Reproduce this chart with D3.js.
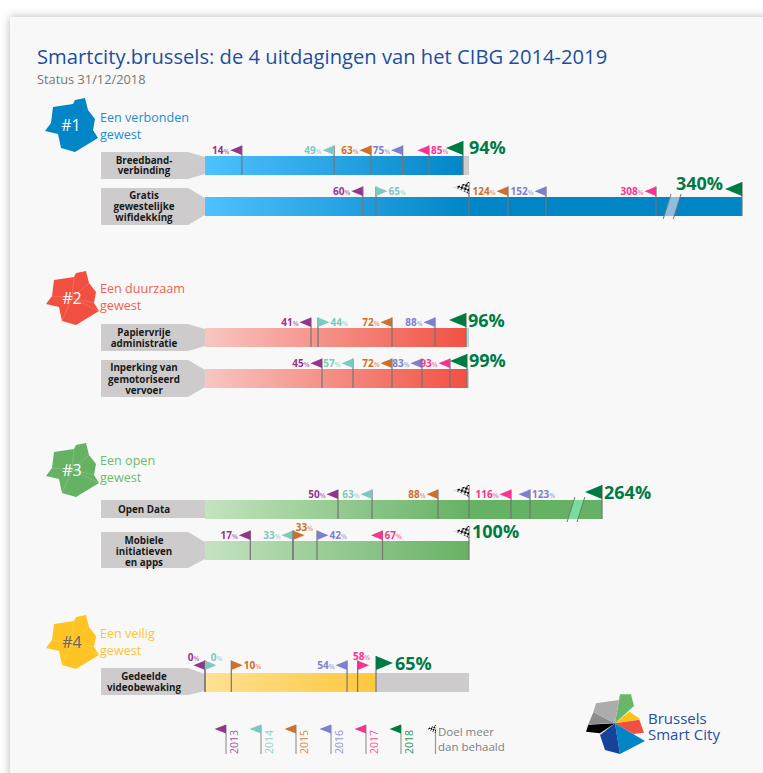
<!DOCTYPE html>
<html>
<head>
<meta charset="utf-8">
<script src="https://cdn.jsdelivr.net/npm/d3@7"></script>
<style>
  html, body { margin: 0; padding: 0; background: #fff; overflow: hidden; }
  text { font-family: "Open Sans", sans-serif; }
</style>
</head>
<body>
<div id="chart"></div>
<script>
// Data
const years = ["2013", "2014", "2015", "2016", "2017", "2018"];
const groupNames = [["Een verbonden", "gewest"], ["Een duurzaam", "gewest"], ["Een open", "gewest"], ["Een veilig", "gewest"]];
const groupTags = ["#1", "#2", "#3", "#4"];

const rowNames = [
    ["Breedband-", "verbinding"],
    ["Gratis", "gewestelijke", "wifidekking"],
    ["Papiervrije", "administratie"],
    ["Inperking van", "gemotoriseerd", "vervoer"],
    ["Open Data"],
    ["Mobiele", "initiatieven", "en apps"],
    ["Gedeelde", "videobewaking"]
];

// one value per year, null where the picture has no flag
const breedband = [14, 49, 63, 75, 85, 94];
const wifi = [60, 65, 124, 152, 308, 340];
const papier = [41, 44, 72, 88, null, 96];
const inperking = [45, 57, 72, 83, 93, 99];
const openData = [50, 63, 88, 123, 116, 264];
const mobiel = [17, 33, 33, 42, 67, 100];
const video = [0, 0, 10, 54, 58, 65];
const rowValues = [breedband, wifi, papier, inperking, openData, mobiel, video];

// rows with a chequered "goal passed" flag at 100%
const goalFlag = [false, true, false, false, true, true, false];

// Set up dimensions
const width = 763;
const height = 773;
const barStart = 205;
const goalX = 469;

const yearColors = ["#93358d", "#7ccabf", "#cf6f2a", "#7d7fcf", "#f7348f", "#007a45"];
const groupColors = ["#0085c7", "#f15041", "#66b264", "#ffc423"];
const groupText = ["#1b8fd0", "#f2604f", "#6cbb6c", "#fdc52f"];

// Layout of each row. The bars are not to one scale in the picture, so each
// row gets its own piecewise x scale.
const rowLayout = [
    {group: 0, top: 156, labelTop: 152, labelBottom: 179, labelLines: [164, 174],
     domain: [0, 85, 94, 100], range: [barStart, 429, 463, goalX],
     dirs: "llllll", sides: "LLLLRR", bigDy: 2.5, bigDx: 6},
    {group: 0, top: 197, labelTop: 188, labelBottom: 225, labelLines: [199, 210, 221],
     domain: [0, 65, 100, 124, 152, 308, 340], range: [barStart, 376, goalX, 508, 546, 656, 742],
     dirs: "lrllll", sides: "LRLLLL", bigDy: 7.5, breakAt: 314, breakFill: "#8fbde0"},
    {group: 1, top: 328, labelTop: 324, labelBottom: 351, labelLines: [336, 347],
     domain: [0, 41, 44, 72, 88, 96, 100], range: [barStart, 311, 318, 392, 435, 466, goalX],
     dirs: "lrll.l", sides: "LRLL.R", bigDy: 1.5, bigDx: 2},
    {group: 1, top: 369, labelTop: 360, labelBottom: 397, labelLines: [371, 382.5, 393.5],
     domain: [0, 45, 57, 72, 83, 93, 99, 100], range: [barStart, 322, 353, 392, 422, 450, 467, goalX],
     dirs: "llllll", sides: "LLLLLR", bigDy: 2, bigDx: 2},
    {group: 2, top: 500, labelTop: 500, labelBottom: 518, labelLines: [513],
     domain: [0, 50, 63, 88, 100, 116, 123, 264], range: [barStart, 338, 372, 438, goalX, 511, 530, 602],
     dirs: "llllll", sides: "LLLRLR", bigDy: 1, bigDx: 2, breakAt: 213, breakFill: "#77dd99"},
    {group: 2, top: 541, labelTop: 532, labelBottom: 568, labelLines: [544, 555, 566],
     domain: [0, 42, 100], range: [barStart, 317, goalX],
     dirs: "llrrl.", sides: "LLTRRR", bigDy: 3, bigDx: 3},
    {group: 3, top: 673, labelTop: 668, labelBottom: 695, labelLines: [680, 691],
     domain: [0, 65, 100], range: [barStart, 376, goalX],
     dirs: "lrrlrr", sides: "TTRLAR", bigDy: 3.5, bigDx: 2, flagGap: 3, fillEnd: 376}
];

const blobOutline = [[13, 12], [33, 9], [35, 5], [45, 3], [48, 15], [55, 24], [53, 35], [58, 43], [35, 57], [21, 53], [18, 39], [5, 36], [11, 28]];
const blobOrigins = [[40, 95], [41, 268], [41, 440], [41, 612]];

// Create SVG
const svg = d3.select("#chart")
    .append("svg")
    .attr("width", width)
    .attr("height", height)
    .style("display", "block");

const defs = svg.append("defs");

defs.append("filter").attr("id", "panel-shadow")
    .attr("x", "-5%").attr("y", "-5%").attr("width", "110%").attr("height", "110%")
    .append("feDropShadow")
    .attr("dx", 0).attr("dy", 0).attr("stdDeviation", 5)
    .attr("flood-color", "#000").attr("flood-opacity", 0.28);

// Gradients for the bars
const gradients = [["#4fc1ff", "#0085c7"], ["#f8c6c2", "#f15041"], ["#c4e3bf", "#66b264"], ["#fee192", "#ffc83d"]];
gradients.forEach(function(g, i) {
    const end = i === 3 ? 376 : goalX;
    const grad = defs.append("linearGradient")
        .attr("id", "bar-" + i)
        .attr("gradientUnits", "userSpaceOnUse")
        .attr("x1", barStart).attr("x2", end).attr("y1", 0).attr("y2", 0);
    grad.append("stop").attr("offset", 0).attr("stop-color", g[0]);
    grad.append("stop").attr("offset", 1).attr("stop-color", g[1]);
});

// Chequered pattern for the goal flag
const chequer = defs.append("pattern")
    .attr("id", "chequer")
    .attr("patternUnits", "userSpaceOnUse")
    .attr("width", 5).attr("height", 5)
    .attr("patternTransform", "rotate(-25)");
chequer.append("rect").attr("width", 5).attr("height", 5).attr("fill", "#fff");
chequer.append("rect").attr("width", 2.5).attr("height", 2.5).attr("fill", "#000");
chequer.append("rect").attr("x", 2.5).attr("y", 2.5).attr("width", 2.5).attr("height", 2.5).attr("fill", "#000");

// Panel
svg.append("rect")
    .attr("x", 10).attr("y", 17)
    .attr("width", 800).attr("height", 800)
    .attr("fill", "#f8f8f8")
    .attr("filter", "url(#panel-shadow)");

// Title
svg.append("text")
    .attr("x", 37).attr("y", 64)
    .attr("fill", "#1d4f9f")
    .style("font-size", "20.2px")
    .text("Smartcity.brussels: de 4 uitdagingen van het CIBG 2014-2019");

svg.append("text")
    .attr("x", 37).attr("y", 84)
    .attr("fill", "#777")
    .style("font-size", "12.8px")
    .text("Status 31/12/2018");

// Region blobs with their names
groupNames.forEach(function(name, i) {
    const g = svg.append("g")
        .attr("transform", `translate(${blobOrigins[i][0]},${blobOrigins[i][1]})`);

    g.append("polygon")
        .attr("points", blobOutline.join(" "))
        .attr("fill", groupColors[i]);

    // thin spokes inside the blob, the first one has none
    if (i > 0) {
        [[48, 15], [53, 35], [58, 43], [21, 53], [11, 28], [33, 9]].forEach(function(p) {
            g.append("line")
                .attr("x1", 31).attr("y1", 30)
                .attr("x2", p[0]).attr("y2", p[1])
                .attr("stroke", "#fff").attr("stroke-opacity", 0.22).attr("stroke-width", 0.7);
        });
    }

    g.append("text")
        .attr("x", 31).attr("y", 35.5)
        .attr("text-anchor", "middle")
        .attr("fill", i === 3 ? "#666" : "#fff")
        .style("font-size", "16px")
        .text(groupTags[i]);

    const firstLine = [121.5, 293, 465, 638][i];
    name.forEach(function(line, k) {
        svg.append("text")
            .attr("x", 100)
            .attr("y", firstLine + k * 17.3)
            .attr("fill", groupText[i])
            .style("font-size", "12.6px")
            .text(line);
    });
});

// Flag helpers
function flagPath(x, bottom, w, h, dir) {
    const s = dir === "l" ? -1 : 1;
    const p = d3.path();
    p.moveTo(x, bottom - h);
    p.lineTo(x + s * w, bottom - h / 2);
    p.lineTo(x, bottom);
    p.closePath();
    return p.toString();
}

function percentLabel(parent, x, y, anchor, value, color, size) {
    const t = parent.append("text")
        .attr("x", x).attr("y", y)
        .attr("text-anchor", anchor)
        .attr("fill", color)
        .style("font-size", size + "px")
        .style("font-weight", 700)
        .text(value);
    t.append("tspan")
        .attr("fill-opacity", size > 12 ? 1 : 0.6)
        .style("font-size", (size > 12 ? size : 6.5) + "px")
        .text("%");
}

function drawGoalFlag(parent, x, bottom, k) {
    parent.append("path")
        .attr("transform", `translate(${x},${bottom}) scale(${k})`)
        .attr("d", "M0,-12L-15,-6.5L-8,-4L0,0Z")
        .attr("fill", "url(#chequer)");
}

const poleColor = "#757575";
const barHeight = 19;

// Draw the rows
rowLayout.forEach(function(row, r) {
    const g = svg.append("g");
    const values = rowValues[r];
    const last = values[values.length - 1];
    const top = row.top;
    const bottom = top + barHeight;
    const flagBottom = top - (row.flagGap || 1);

    const x = d3.scaleLinear().domain(row.domain).range(row.range);

    // grey name tag, with a point towards the bar if it is taller than the bar
    const tagTop = row.labelTop;
    const tagBottom = row.labelBottom;
    const pointed = tagTop < top;
    const tagPoints = pointed
        ? [[101, tagTop], [188, tagTop], [barStart, top + 1], [barStart, bottom - 1], [188, tagBottom], [101, tagBottom]]
        : [[101, tagTop], [barStart, tagTop], [barStart, tagBottom], [101, tagBottom]];
    g.append("polygon")
        .attr("points", tagPoints.join(" "))
        .attr("fill", "#cdcbcb");

    rowNames[r].forEach(function(line, k) {
        g.append("text")
            .attr("x", 144)
            .attr("y", row.labelLines[k])
            .attr("text-anchor", "middle")
            .attr("fill", "#1a1a1a")
            .style("font-size", "9.8px")
            .style("font-weight", 700)
            .text(line);
    });

    // grey track up to the 100% mark, then the bar on top
    g.append("rect")
        .attr("x", barStart).attr("y", top)
        .attr("width", goalX - barStart).attr("height", barHeight)
        .attr("fill", "#cdcbcb");

    g.append("rect")
        .attr("x", barStart).attr("y", top)
        .attr("width", x(last) - barStart).attr("height", barHeight)
        .attr("fill", `url(#bar-${row.group})`);

    // axis break
    if (row.breakAt !== undefined) {
        const bx = x(row.breakAt);
        const skew = 3;
        const gap = 5;
        g.append("polygon")
            .attr("points", [[bx - gap + skew, top], [bx + gap + skew, top], [bx + gap - skew, bottom], [bx - gap - skew, bottom]].join(" "))
            .attr("fill", row.breakFill);
        [-gap, gap].forEach(function(o) {
            g.append("line")
                .attr("x1", bx + o + skew + 0.9).attr("y1", top - 3)
                .attr("x2", bx + o - skew - 0.9).attr("y2", bottom + 3)
                .attr("stroke", poleColor).attr("stroke-width", 1);
        });
    }

    // goal flag at 100%
    if (goalFlag[r]) {
        const gx = x(100);
        g.append("line")
            .attr("x1", gx).attr("x2", gx)
            .attr("y1", top - 15).attr("y2", bottom)
            .attr("stroke", poleColor).attr("stroke-width", 1.2);
        drawGoalFlag(g, gx, top - 3, 1);
    }

    // one flag per year
    values.forEach(function(v, i) {
        if (v === null) return;
        const isLast = i === values.length - 1;
        const px = x(v);
        const dir = row.dirs[i];
        const side = row.sides[i];
        const color = yearColors[i];
        const big = isLast;
        const fw = big ? 17 : 11.5;
        const fh = big ? 14 : 9.5;

        // the 100% on the apps row sits on the chequered flag, no green flag there
        if (dir !== ".") {
            g.append("line")
                .attr("x1", px).attr("x2", px)
                .attr("y1", flagBottom - fh).attr("y2", bottom)
                .attr("stroke", poleColor).attr("stroke-width", 1.2);
            g.append("path")
                .attr("d", flagPath(px, flagBottom, fw, fh, dir))
                .attr("fill", color);
        }

        if (big) {
            const by = top - row.bigDy;
            if (side === "L") {
                percentLabel(g, px - fw - 2, by, "end", v, color, 18);
            } else {
                const start = dir === "r" ? px + fw + 2 : px + row.bigDx;
                percentLabel(g, start, by, "start", v, color, 18);
            }
            return;
        }

        const ly = flagBottom - 1.5;
        const tip = dir === "l" ? -fw : fw;
        if (side === "L") {
            percentLabel(g, px + (dir === "l" ? -fw - 1 : -2), ly, "end", v, color, 10);
        } else if (side === "R") {
            percentLabel(g, px + (dir === "r" ? fw + 1 : 2), ly, "start", v, color, 10);
        } else if (side === "T") {
            percentLabel(g, px + tip, flagBottom - 9, "middle", v, color, 10);
        } else {
            percentLabel(g, px + 4, flagBottom - 10, "middle", v, color, 10);
        }
    });
});

// Legend
const legend = svg.append("g");
const legendX = d3.scalePoint().domain(years).range([226, 401]);

years.forEach(function(year, i) {
    const lx = legendX(year);
    legend.append("line")
        .attr("x1", lx).attr("x2", lx)
        .attr("y1", 725).attr("y2", 754)
        .attr("stroke", "#999").attr("stroke-width", 1.2);
    legend.append("path")
        .attr("d", flagPath(lx, 733.5, 11.5, 9, "l"))
        .attr("fill", yearColors[i]);
    legend.append("text")
        .attr("transform", `translate(${lx + 12},754) rotate(-90)`)
        .attr("fill", yearColors[i])
        .attr("fill-opacity", 0.85)
        .style("font-size", "10.5px")
        .text(year);
});

legend.append("line")
    .attr("x1", 435.5).attr("x2", 435.5)
    .attr("y1", 725).attr("y2", 754)
    .attr("stroke", "#999").attr("stroke-width", 1.2);
drawGoalFlag(legend, 436, 733, 0.65);

["Doel meer", "dan behaald"].forEach(function(line, k) {
    legend.append("text")
        .attr("x", 438)
        .attr("y", 736 + k * 15)
        .attr("fill", "#808080")
        .style("font-size", "11.5px")
        .text(line);
});

// Logo
const logo = svg.append("g").attr("transform", "translate(570,680) scale(0.3333)");
const logoPieces = [
    ["#68b868", [[135, 130], [150, 43], [183, 43], [192, 78]]],
    ["#ffc20e", [[135, 130], [178, 95], [212, 118]]],
    ["#f15041", [[135, 130], [208, 119], [222, 158], [190, 162]]],
    ["#0085c7", [[135, 130], [225, 183], [150, 222]]],
    ["#15439a", [[135, 130], [150, 222], [105, 210], [90, 165]]],
    ["#000000", [[135, 130], [90, 160], [48, 155], [55, 134]]],
    ["#8c8c8c", [[135, 130], [55, 133], [70, 97]]],
    ["#acacac", [[135, 130], [70, 97], [78, 70], [147, 60]]]
];
logoPieces.forEach(function(piece) {
    logo.append("polygon")
        .attr("points", piece[1].join(" "))
        .attr("fill", piece[0]);
});

["Brussels", "Smart City"].forEach(function(line, k) {
    svg.append("text")
        .attr("x", 648)
        .attr("y", 723.5 + k * 16)
        .attr("fill", "#27509b")
        .style("font-size", "15px")
        .text(line);
});
</script>
</body>
</html>
